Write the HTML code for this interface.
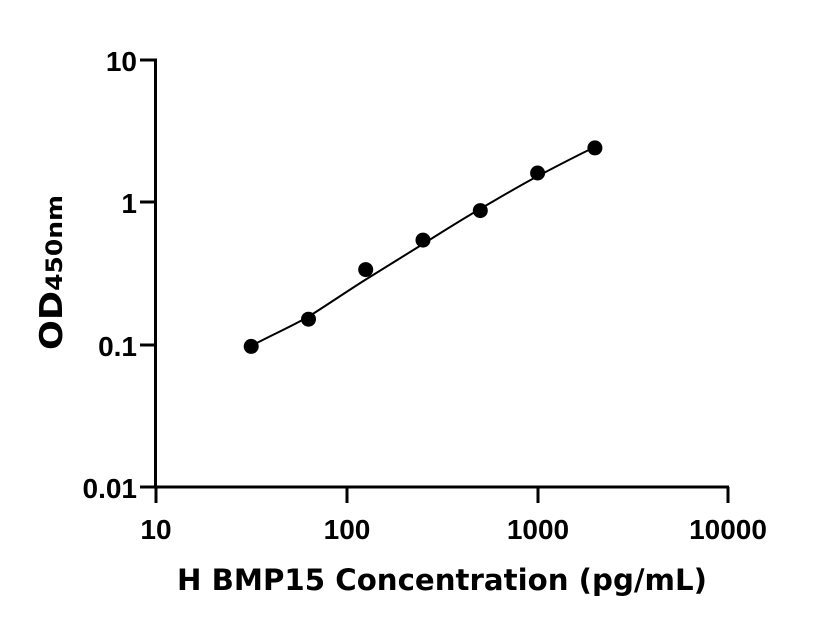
<!DOCTYPE html>
<html><head><meta charset="utf-8"><style>html,body{margin:0;padding:0;background:#fff}svg{display:block}</style></head>
<body>
<svg width="816" height="640" viewBox="0 0 816 640" xmlns="http://www.w3.org/2000/svg" font-family="'Liberation Sans', Arial, sans-serif" font-weight="bold">
<g stroke="#000" stroke-width="3" fill="none">
<line x1="155.5" y1="59" x2="155.5" y2="488"/>
<line x1="140" y1="487" x2="729" y2="487"/>
<line x1="140" y1="60" x2="157" y2="60"/>
<line x1="140" y1="202" x2="157" y2="202"/>
<line x1="140" y1="345" x2="157" y2="345"/>
<line x1="156" y1="487" x2="156" y2="503"/>
<line x1="347" y1="487" x2="347" y2="503"/>
<line x1="538" y1="487" x2="538" y2="503"/>
<line x1="728" y1="487" x2="728" y2="503"/>
</g>
<g font-size="28" text-anchor="end">
<text x="137" y="71">10</text>
<text x="137" y="213">1</text>
<text x="137" y="356">0.1</text>
<text x="137" y="498">0.01</text>
</g>
<g font-size="28" text-anchor="middle">
<text x="156" y="539">10</text>
<text x="347" y="539">100</text>
<text x="538" y="539">1000</text>
<text x="728" y="539">10000</text>
</g>
<path d="M251,346 C270,336 290,327 308,317 C327,305 346,292 365,280 C384,268 404,256 423,244 C442,232 461,220 480,209 C499,198 519,186 538,176 C557,166 576,156 595,147" stroke="#000" stroke-width="2" fill="none"/>
<g fill="#000">
<circle cx="251.2" cy="346.4" r="7.5"/>
<circle cx="308.5" cy="319.2" r="7.5"/>
<circle cx="365.7" cy="269.6" r="7.5"/>
<circle cx="423" cy="240.1" r="7.5"/>
<circle cx="480.3" cy="210.6" r="7.5"/>
<circle cx="537.6" cy="173" r="7.5"/>
<circle cx="594.9" cy="147.9" r="7.5"/>
</g>
<text x="442" y="590" font-size="29" text-anchor="middle" textLength="530" lengthAdjust="spacingAndGlyphs" font-family="'DejaVu Sans', 'Liberation Sans', sans-serif">H BMP15 Concentration (pg/mL)</text>
<text transform="translate(62,350) rotate(-90)" font-size="31" textLength="155" lengthAdjust="spacingAndGlyphs" font-family="'DejaVu Sans', 'Liberation Sans', sans-serif">OD<tspan font-size="22">450nm</tspan></text>
</svg>
</body></html>
